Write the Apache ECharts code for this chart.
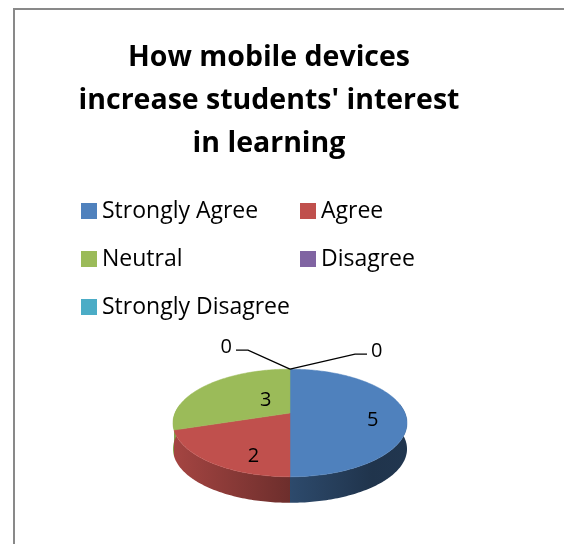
<!DOCTYPE html>
<html>
<head>
<meta charset="utf-8">
<script src="https://cdn.jsdelivr.net/npm/echarts@6/dist/echarts.min.js"></script>
<style>
html,body{margin:0;padding:0;background:#fff;}
#chart{width:564px;height:544px;}
</style>
</head>
<body>
<div id="chart"></div>
<script>
// ---- data ----
const titleText = "How mobile devices\nincrease students' interest\nin learning";
const categories = ['Strongly Agree', 'Agree', 'Neutral', 'Disagree', 'Strongly Disagree'];
const values = [5, 2, 3, 0, 0];

// ---- style ----
const colors = ['#4F81BD', '#C0504D', '#9BBB59', '#8064A2', '#4BACC6'];
const labelPlace = [[0.72, 7], [0.5, 21], [0.27, -5], [0, 0], [0, 0]]; // [radius fraction, y shift]
const CX = 290, CY = 413, RX = 115, RY = 52, P = 0.185, DEPTH = 26;
const FONT = '"Open Sans"';

function proj(deg, r) {
  const t = deg * Math.PI / 180;
  const u = r * Math.sin(t), v = -r * Math.cos(t);
  const s = 1 / (1 - P * v);
  return [CX + RX * u * s, CY + RY * v * s];
}
function shade(hex, f) {
  const n = parseInt(hex.slice(1), 16);
  const r = Math.round(((n >> 16) & 255) * f), g = Math.round(((n >> 8) & 255) * f), b = Math.round((n & 255) * f);
  return 'rgb(' + r + ',' + g + ',' + b + ')';
}
function arcPts(a, b) {
  const pts = [];
  const n = Math.max(2, Math.ceil(Math.abs(b - a)));
  for (let i = 0; i <= n; i++) pts.push(proj(a + (b - a) * i / n, 1));
  return pts;
}

const total = values.reduce((s, v) => s + v, 0);
const cum = [];
values.reduce((s, v, i) => { cum[i] = s; return s + v; }, 0);
let zeroCount = 0;
const zeroSide = values.map(v => (v === 0 ? (zeroCount++ % 2 === 0 ? -1 : 1) : 0));

function makeRender(idx) {
  return function (params, api) {
    const start = api.value(0), val = api.value(1);
    const a = start / total * 360, b = (start + val) / total * 360;
    const col = colors[idx];
    const children = [];
    const apex = proj(a, 1);
    if (val === 0) {
      const side = zeroSide[idx];
      const elbow = side < 0 ? [apex[0] - 42, apex[1] - 19] : [apex[0] + 65, apex[1] - 15];
      const end = [elbow[0] + side * 12, elbow[1]];
      children.push({
        type: 'polyline', z2: 30,
        shape: { points: [apex, elbow, end] },
        style: { stroke: '#000', lineWidth: 1.3, fill: null }
      });
      children.push({
        type: 'text', z2: 31,
        style: {
          text: String(val), x: end[0] + side * 4, y: end[1] - 3,
          align: side < 0 ? 'right' : 'left', verticalAlign: 'middle',
          font: '20px ' + FONT, fill: '#000'
        }
      });
      return { type: 'group', children: children };
    }
    // side face (front part only)
    const sa = Math.max(a, 80), sb = Math.min(b, 280);
    if (sb > sa) {
      const top = arcPts(sa, sb);
      const bottom = top.map(p => [p[0], p[1] + DEPTH]).reverse();
      children.push({
        type: 'polygon', z2: 1,
        shape: { points: top.concat(bottom) },
        style: {
          fill: {
            type: 'linear', global: true, x: CX - RX * 1.02, y: 0, x2: CX + RX * 1.02, y2: 0,
            colorStops: [
              { offset: 0, color: shade(col, 0.86) },
              { offset: 0.5, color: shade(col, 0.57) },
              { offset: 0.85, color: shade(col, 0.40) },
              { offset: 1, color: shade(col, 0.42) }
            ]
          },
          stroke: null
        }
      });
    }
    // top face
    const pts = [[CX, CY]].concat(arcPts(a, b));
    children.push({
      type: 'polygon', z2: 10,
      shape: { points: pts },
      style: { fill: col, stroke: col, lineWidth: 0.5 }
    });
    const lp = labelPlace[idx];
    const c = proj((a + b) / 2, lp[0]);
    children.push({
      type: 'text', z2: 20,
      style: {
        text: String(val), x: c[0], y: c[1] + lp[1],
        align: 'center', verticalAlign: 'middle',
        font: '20px ' + FONT, fill: '#000'
      }
    });
    return { type: 'group', children: children };
  };
}

const series = categories.map((name, i) => ({
  type: 'custom',
  name: name,
  coordinateSystem: 'none',
  itemStyle: { color: colors[i] },
  data: [[cum[i], values[i]]],
  renderItem: makeRender(i)
}));

const legendText = { fontFamily: FONT, fontSize: 23, lineHeight: 24, color: '#000' };
const chart = echarts.init(document.getElementById('chart'), null, { renderer: 'canvas' });
chart.setOption({
  animation: false,
  backgroundColor: '#fff',
  title: {
    text: titleText,
    left: 264, top: 31, textAlign: 'center',
    textStyle: { fontFamily: FONT, fontWeight: 'bold', fontSize: 28.5, lineHeight: 43, color: '#000' }
  },
  legend: [
    {
      data: [categories[0], categories[2], categories[4]],
      orient: 'vertical', left: 76, top: 194, itemGap: 24,
      icon: 'rect', itemWidth: 16, itemHeight: 16, selectedMode: false,
      textStyle: legendText
    },
    {
      data: [categories[1], categories[3]],
      orient: 'vertical', left: 295, top: 194, itemGap: 24,
      icon: 'rect', itemWidth: 16, itemHeight: 16, selectedMode: false,
      textStyle: legendText
    }
  ],
  graphic: [{
    type: 'rect', silent: true, z: -1,
    shape: { x: 14, y: 9, width: 700, height: 700 },
    style: { fill: null, stroke: '#898989', lineWidth: 2 }
  }],
  series: series
});
</script>
</body>
</html>
